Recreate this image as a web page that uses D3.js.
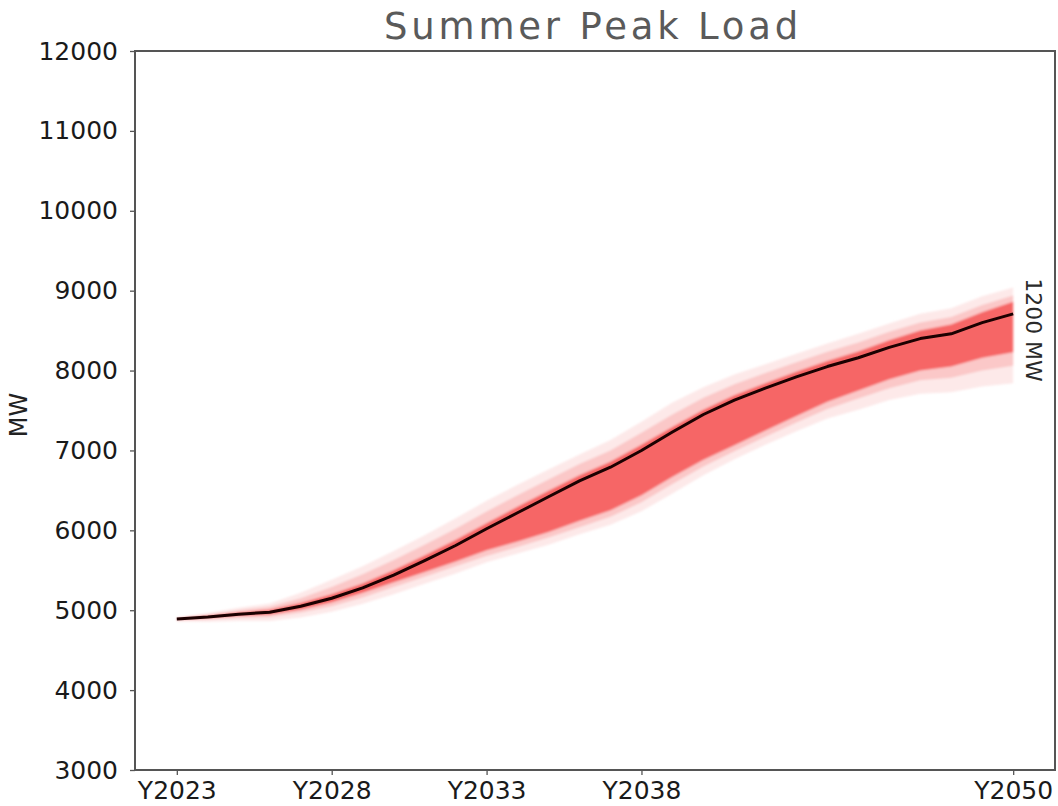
<!DOCTYPE html>
<html>
<head>
<meta charset="utf-8">
<script src="https://cdn.jsdelivr.net/npm/d3@7"></script>
<style>
  html, body { margin: 0; padding: 0; background: #fff; }
  svg { display: block; }
</style>
</head>
<body>
<svg id="chart" width="1058" height="806"></svg>
<script>
// Summer peak load outlook, 2023-2050 (MW)
const years = [2023, 2024, 2025, 2026, 2027, 2028, 2029, 2030, 2031, 2032,
               2033, 2034, 2035, 2036, 2037, 2038, 2039, 2040, 2041, 2042,
               2043, 2044, 2045, 2046, 2047, 2048, 2049, 2050];

// central forecast
const baseLoad = [4890, 4915, 4950, 4975, 5050, 5150, 5280, 5440, 5620, 5810,
                  6020, 6220, 6420, 6620, 6790, 7000, 7230, 7450, 7630, 7780,
                  7920, 8050, 8160, 8290, 8400, 8460, 8600, 8710];

// uncertainty bands, widest to narrowest
const outerHigh = [4910, 4965, 5030, 5085, 5220, 5380, 5550, 5740, 5940, 6150,
                   6370, 6570, 6760, 6950, 7130, 7360, 7600, 7790, 7950, 8080,
                   8210, 8340, 8460, 8590, 8710, 8780, 8930, 9040];
const outerLow  = [4860, 4855, 4865, 4865, 4910, 4980, 5080, 5200, 5330, 5460,
                   5600, 5710, 5820, 5950, 6070, 6240, 6460, 6690, 6890, 7070,
                   7240, 7400, 7510, 7630, 7710, 7730, 7800, 7840];
const midHigh   = [4900, 4945, 5000, 5045, 5150, 5290, 5450, 5630, 5820, 6020,
                   6235, 6440, 6635, 6830, 7000, 7220, 7450, 7660, 7830, 7970,
                   8105, 8235, 8350, 8485, 8600, 8670, 8820, 8940];
const midLow    = [4875, 4885, 4905, 4915, 4970, 5050, 5160, 5290, 5420, 5550,
                   5680, 5790, 5910, 6040, 6170, 6350, 6580, 6800, 6990, 7170,
                   7350, 7520, 7650, 7780, 7880, 7910, 8000, 8060];
const innerHigh = [4895, 4927, 4970, 5005, 5090, 5200, 5335, 5500, 5685, 5880,
                   6090, 6295, 6495, 6690, 6860, 7070, 7295, 7510, 7690, 7840,
                   7985, 8120, 8240, 8380, 8500, 8575, 8730, 8860];
const innerLow  = [4885, 4903, 4930, 4945, 5010, 5100, 5220, 5350, 5480, 5610,
                   5750, 5860, 5980, 6120, 6250, 6440, 6670, 6885, 7065, 7250,
                   7430, 7610, 7750, 7890, 8000, 8050, 8160, 8230];

const xTickYears  = [2023, 2028, 2033, 2038, 2050];
const xTickLabels = ["Y2023", "Y2028", "Y2033", "Y2038", "Y2050"];
const yTicks = [3000, 4000, 5000, 6000, 7000, 8000, 9000, 10000, 11000, 12000];

const titleText = "Summer Peak Load";
const yAxisTitle = "MW";
const spreadLabel = "1200 MW";

const svg = d3.select("#chart");
const plot = { left: 135, top: 51, right: 1055, bottom: 770 };

const x = d3.scaleLinear().domain([2021.65, 2051.35]).range([plot.left, plot.right]);
const y = d3.scaleLinear().domain([3000, 12000]).range([plot.bottom, plot.top]);

const defs = svg.append("defs");
defs.append("filter").attr("id", "soft")
  .attr("x", "-5%").attr("y", "-5%").attr("width", "110%").attr("height", "110%")
  .append("feGaussianBlur").attr("stdDeviation", 1.2);
defs.append("filter").attr("id", "softLine")
  .append("feGaussianBlur").attr("stdDeviation", 0.5);

const bandArea = (hi, lo) => d3.area()
  .x((d, i) => x(years[i]))
  .y0((d, i) => y(lo[i]))
  .y1((d, i) => y(hi[i]));

const bands = svg.append("g").attr("filter", "url(#soft)");
bands.append("path").datum(years)
  .attr("d", bandArea(outerHigh, outerLow))
  .attr("fill", "#fde9e9");
bands.append("path").datum(years)
  .attr("d", bandArea(midHigh, midLow))
  .attr("fill", "#fbc8c8");
bands.append("path").datum(years)
  .attr("d", bandArea(innerHigh, innerLow))
  .attr("fill", "#f66666");

const line = d3.line()
  .x((d, i) => x(years[i]))
  .y(d => y(d));

svg.append("path").datum(baseLoad)
  .attr("d", line)
  .attr("fill", "none")
  .attr("stroke", "#1a0606")
  .attr("stroke-width", 3)
  .attr("stroke-linejoin", "round")
  .attr("filter", "url(#softLine)");

// axes
const yAxis = d3.axisLeft(y).tickValues(yTicks).tickSize(5).tickPadding(12)
  .tickFormat(d3.format("d"));
const gy = svg.append("g").attr("transform", `translate(${plot.left},0)`).call(yAxis);
gy.select(".domain").remove();
gy.selectAll("line").attr("stroke", "#555").attr("stroke-width", 1.3);
gy.selectAll("text")
  .attr("font-family", "DejaVu Sans")
  .attr("font-size", 25)
  .attr("fill", "#1a1a1a");

const xAxis = d3.axisBottom(x).tickValues(xTickYears).tickSize(5).tickPadding(6)
  .tickFormat((d, i) => xTickLabels[i]);
const gx = svg.append("g").attr("transform", `translate(0,${plot.bottom})`).call(xAxis);
gx.select(".domain").remove();
gx.selectAll("line").attr("stroke", "#555").attr("stroke-width", 1.3);
gx.selectAll("text")
  .attr("font-family", "DejaVu Sans")
  .attr("font-size", 25)
  .attr("fill", "#1a1a1a");

// frame
svg.append("rect")
  .attr("x", plot.left).attr("y", plot.top)
  .attr("width", plot.right - plot.left).attr("height", plot.bottom - plot.top)
  .attr("fill", "none").attr("stroke", "#555").attr("stroke-width", 2);

// titles
svg.append("text")
  .attr("x", 593).attr("y", 39)
  .attr("text-anchor", "middle")
  .attr("font-family", "DejaVu Sans")
  .attr("font-size", 37)
  .attr("letter-spacing", 3.8)
  .attr("fill", "#5a5a5a")
  .text(titleText);

svg.append("text")
  .attr("transform", "translate(27,415) rotate(-90)")
  .attr("text-anchor", "middle")
  .attr("font-family", "DejaVu Sans")
  .attr("font-size", 24)
  .attr("fill", "#222")
  .text(yAxisTitle);

svg.append("text")
  .attr("transform", `translate(1026,${330}) rotate(90)`)
  .attr("text-anchor", "middle")
  .attr("font-family", "DejaVu Sans")
  .attr("font-size", 22)
  .attr("fill", "#2a2a2a")
  .text(spreadLabel);
</script>
</body>
</html>
